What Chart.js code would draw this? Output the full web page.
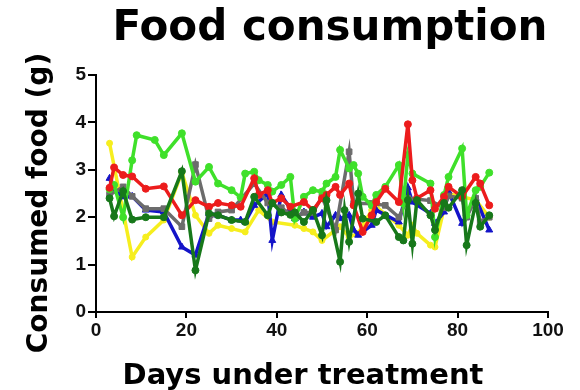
<!DOCTYPE html>
<html>
<head>
<meta charset="utf-8">
<script src="https://cdn.jsdelivr.net/npm/chart.js@4/dist/chart.umd.min.js"></script>
<style>
  html, body { margin: 0; padding: 0; background: #fff; }
  #wrap { width: 580px; height: 390px; }
</style>
</head>
<body>
<div id="wrap"><canvas id="c" width="580" height="390"></canvas></div>
<script>
// Measurement days (days under treatment)
const days = [3,4,6,8,9,11,13,15,19,22,
              25,27,30,32,33,35,36,38,39,41,
              43,44,46,48,50,51,53,54,55,56,
              57,58,59,61,62,64,67,68,69,70,
              71,74,75,77,78,81,82,84,85,87];

// Consumed food (g) per group
const redGroup = [2.62,3.05,2.89,2.86,null,2.60,null,2.65,2.04,2.36,
                  2.22,2.30,2.25,2.22,null,2.82,2.47,2.57,2.30,2.40,
                  2.22,null,2.32,2.15,2.40,2.47,2.64,2.47,null,2.71,
                  2.25,null,1.69,2.04,2.32,2.60,2.32,null,3.96,2.78,
                  2.40,2.57,2.18,2.43,2.64,2.43,null,2.85,2.71,2.25];
const limeGroup = [2.59,2.68,2.00,3.20,3.73,null,3.63,3.31,3.77,2.75,
                   3.06,2.71,2.57,2.42,2.92,2.96,2.78,2.68,2.54,2.68,
                   2.85,1.97,2.43,2.57,2.54,2.71,2.85,3.42,null,3.03,
                   3.10,2.92,2.43,2.25,2.47,2.64,3.10,2.29,3.31,2.92,
                   null,2.71,1.58,2.47,2.85,3.45,2.04,2.57,2.64,2.94];
const blueGroup = [2.82,2.57,2.43,2.44,null,2.15,null,2.11,1.37,1.20,
                   2.08,2.04,1.94,1.94,1.90,2.25,null,2.50,1.51,2.47,
                   2.18,1.97,2.11,2.00,2.08,1.80,2.04,1.97,null,2.04,
                   1.73,1.62,null,1.83,2.15,null,1.90,null,2.62,2.32,
                   null,2.08,1.87,2.11,2.54,1.87,null,2.40,null,1.73];
const yellowGroup = [3.56,null,null,1.16,null,1.58,null,1.94,2.94,2.04,
                     1.66,1.83,1.76,null,1.69,null,2.15,null,1.90,null,
                     null,1.83,1.76,1.69,1.51,null,1.73,1.80,null,1.58,
                     null,1.66,null,2.15,2.22,null,1.83,null,1.62,1.83,
                     1.66,1.41,1.37,2.18,2.50,null,null,2.36,null,2.00];
const grayGroup = [2.47,null,2.64,2.44,null,2.18,null,2.18,1.80,3.11,
                   1.97,2.11,2.15,null,null,2.71,null,2.30,null,2.20,
                   null,2.00,2.10,2.10,2.43,null,1.73,null,null,3.38,
                   2.29,null,null,2.29,null,2.25,2.00,null,2.40,null,
                   null,2.35,null,2.20,2.45,2.40,2.00,2.40,1.90,2.00];
const darkGreenGroup = [2.40,2.02,2.55,1.95,null,2.00,null,2.00,2.97,0.88,
                        2.08,2.04,1.94,null,1.90,2.43,null,2.04,2.30,2.10,
                        2.05,2.10,1.90,2.15,1.62,2.36,null,1.06,2.15,1.48,
                        null,2.50,1.97,null,1.90,2.04,1.58,1.51,2.36,1.44,
                        2.36,2.04,1.73,2.30,2.20,2.57,1.41,2.30,1.80,2.04];

const yTicks = [0, 1, 2, 3, 4, 5];
const xTicks = [0, 20, 40, 60, 80, 100];

function pts(vals) {
  return days.map((d, i) => ({ x: d, y: vals[i] }));
}

function series(label, vals, color, shape, radius) {
  return {
    label,
    data: pts(vals),
    borderColor: color,
    backgroundColor: color,
    borderWidth: 3.5,
    pointStyle: shape,
    pointRadius: radius,
    pointBorderWidth: 1,
    spanGaps: true,
    tension: 0
  };
}

// Titles drawn around the plot
const labelsPlugin = {
  id: 'labels',
  afterDraw(chart) {
    const ctx = chart.ctx;
    ctx.save();
    ctx.fillStyle = '#000';
    ctx.textAlign = 'center';
    ctx.textBaseline = 'alphabetic';
    ctx.font = 'bold 42px "DejaVu Sans"';
    ctx.fillText('Food consumption', 330, 40);
    ctx.font = 'bold 29px "DejaVu Sans"';
    ctx.fillText('Days under treatment', 303, 384);
    ctx.font = 'bold 28px "DejaVu Sans"';
    ctx.translate(47, 203);
    ctx.rotate(-Math.PI / 2);
    ctx.fillText('Consumed food (g)', 0, 0);
    ctx.restore();
  }
};

const tickFont = { family: '"Liberation Sans", Arial, sans-serif', size: 19, weight: 'bold' };

new Chart(document.getElementById('c'), {
  type: 'line',
  data: {
    datasets: [
      series('Group 6', darkGreenGroup, '#17781a', 'circle', 3.5),
      series('Group 5', redGroup, '#ec1c1c', 'circle', 3.5),
      series('Group 4', limeGroup, '#3fe02a', 'circle', 3.5),
      series('Group 3', grayGroup, '#6c6c6c', 'rect', 4),
      series('Group 2', blueGroup, '#1414c8', 'triangle', 4),
      series('Group 1', yellowGroup, '#f6ee1e', 'circle', 3)
    ]
  },
  options: {
    responsive: false,
    animation: false,
    devicePixelRatio: 1,
    layout: { padding: { left: 0, right: 32, top: 75, bottom: 50 } },
    plugins: {
      legend: { display: false },
      title: { display: false },
      tooltip: { enabled: false }
    },
    scales: {
      x: {
        type: 'linear',
        min: 0, max: 100,
        afterBuildTicks(scale) { scale.ticks = xTicks.map(v => ({ value: v })); },
        afterFit(scale) { scale.height = 28; },
        grid: { drawOnChartArea: false, drawTicks: true, tickLength: 6, color: '#000', lineWidth: 2 },
        border: { color: '#000', width: 2 },
        ticks: { color: '#111', font: tickFont, padding: 1, maxRotation: 0 }
      },
      y: {
        type: 'linear',
        min: 0, max: 5,
        afterBuildTicks(scale) { scale.ticks = yTicks.map(v => ({ value: v })); },
        afterFit(scale) { scale.width = 96; },
        grid: { drawOnChartArea: false, drawTicks: true, tickLength: 8, color: '#000', lineWidth: 2 },
        border: { color: '#000', width: 2 },
        ticks: { color: '#111', font: tickFont, padding: 2 }
      }
    }
  },
  plugins: [labelsPlugin]
});
</script>
</body>
</html>
